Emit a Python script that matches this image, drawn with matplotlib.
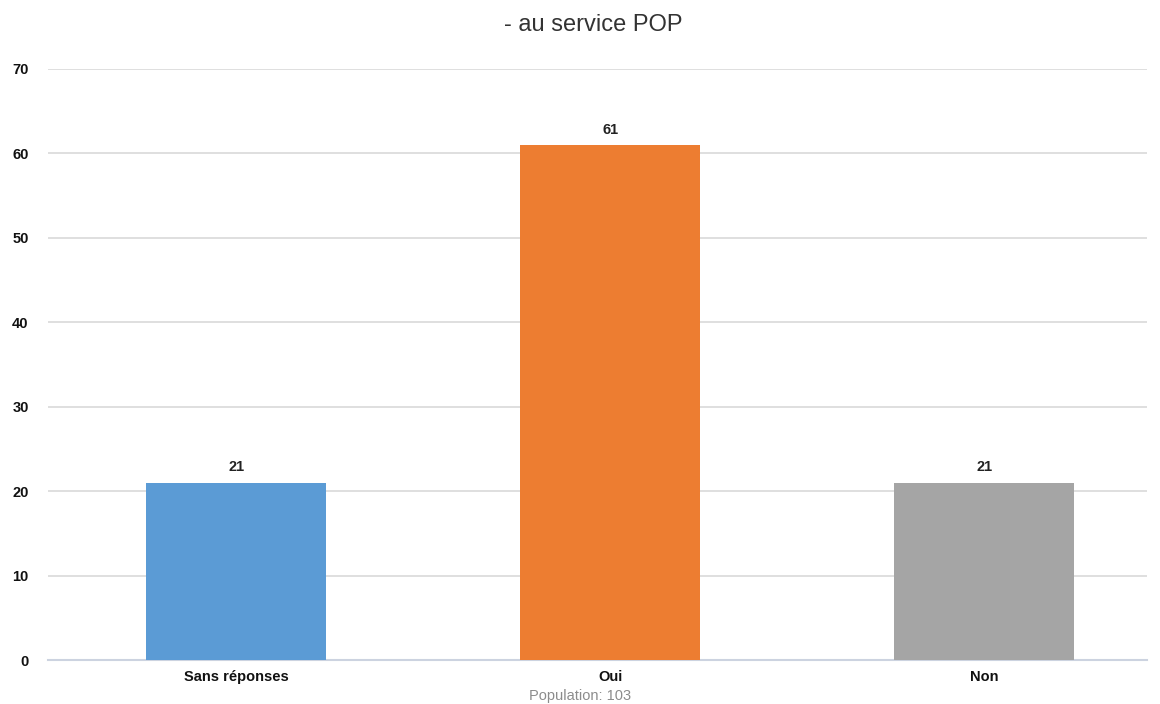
import matplotlib
matplotlib.use('Agg')
import matplotlib.pyplot as plt

# Données
categories = ['Sans réponses', 'Oui', 'Non']
valeurs = [21, 61, 21]
couleurs = ['#5B9BD5', '#ED7D31', '#A5A5A5']
titre = '- au service POP'
population = 'Population: 103'

plt.rcParams['font.family'] = ['Liberation Sans Narrow', 'Liberation Sans', 'DejaVu Sans']

fig = plt.figure(figsize=(11.6, 7.04), dpi=100)
ax = fig.add_axes([0.0414, 0.0625, 0.9476, 0.8395])

x = range(len(categories))
barres = ax.bar(x, valeurs, width=0.48, color=couleurs, zorder=3)

for b, v in zip(barres, valeurs):
    ax.text(b.get_x() + b.get_width() / 2, v + 1.0, str(v), ha='center', va='bottom',
            fontsize=10.5, fontweight='bold', color='#222222')

ax.set_ylim(0, 70)
ax.set_xlim(-0.503, 2.436)
ax.set_yticks(range(0, 71, 10))
ax.set_xticks(list(x))
ax.set_xticklabels(categories, fontsize=10.5, fontweight='bold', color='#111111')
ax.tick_params(axis='y', labelsize=10.5, length=0, pad=14, labelcolor='#111111')
ax.tick_params(axis='x', length=0, pad=7)
for lbl in ax.get_yticklabels():
    lbl.set_fontweight('bold')

ax.grid(axis='y', color='#DCDCDC', linewidth=1.3, zorder=0)
for s in ['top', 'right', 'left']:
    ax.spines[s].set_visible(False)
ax.spines['bottom'].set_color('#CCD3E0')
ax.spines['bottom'].set_linewidth(1.5)

fig.text(0.511, 0.965, titre, ha='center', va='center', fontsize=17, color='#333333')
fig.text(0.5, 0.0115, population, ha='center', va='center', fontsize=10.5, color='#8C8C8C')

fig.savefig('out.png', dpi=100)
